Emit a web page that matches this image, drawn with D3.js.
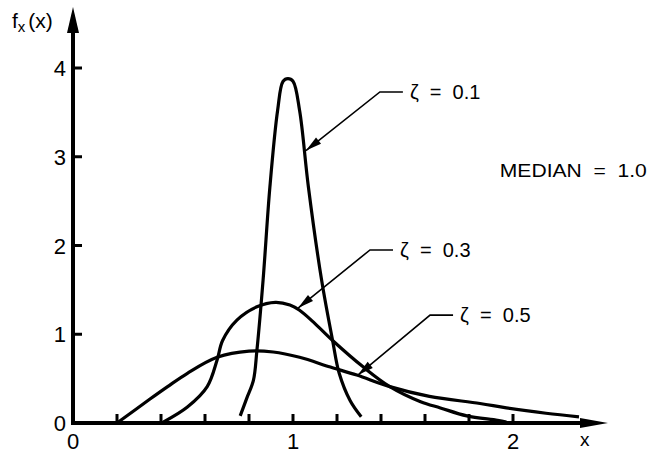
<!doctype html>
<html>
<head>
<meta charset="utf-8">
<title>Lognormal densities</title>
<script src="https://d3js.org/d3.v7.min.js"></script>
<style>
  body { margin: 0; background: #fff; }
  svg text { font-family: "Liberation Sans", Arial, sans-serif; fill: #000; }
</style>
</head>
<body>
<svg width="647" height="456"></svg>
<script>
// curve points (x, f(x))
var zeta01 = [[0.76,0.08],[0.79,0.28],[0.82,0.48],[0.836,0.82],[0.864,1.61],[0.895,2.66],[0.93,3.52],
              [0.955,3.85],[0.977,3.88],[1.0,3.85],[1.03,3.52],[1.07,2.66],[1.13,1.61],[1.18,0.93],
              [1.21,0.56],[1.26,0.25],[1.31,0.07]];
var zeta03 = [[0.41,0.01],[0.52,0.18],[0.61,0.41],[0.655,0.71],[0.68,0.93],[0.745,1.16],[0.836,1.31],
              [0.92,1.36],[0.986,1.33],[1.03,1.27],[1.1,1.12],[1.18,0.93],[1.32,0.63],[1.44,0.41],
              [1.58,0.24],[1.67,0.17],[1.79,0.08],[1.93,0.03],[1.97,0.01]];
var zeta05 = [[0.2,0.0],[0.35,0.27],[0.43,0.41],[0.52,0.56],[0.655,0.74],[0.8,0.81],[0.91,0.8],
              [1.03,0.74],[1.17,0.63],[1.29,0.54],[1.44,0.41],[1.62,0.3],[1.85,0.22],[1.97,0.17],
              [2.15,0.11],[2.3,0.07]];

var xTicks = [0.2,0.4,0.6,0.8,1.0,1.2,1.4,1.6,1.8,2.0];
var xLabels = [0,1,2];
var yTicks = [1,2,3,4];
var yLabels = [0,1,2,3,4];

// label text, arrow tip (data) and elbow (data)
var labels = ["\u03B6  =  0.1", "\u03B6  =  0.3", "\u03B6  =  0.5"];
var arrowTips = [[1.059,3.07],[1.023,1.295],[1.295,0.54]];
var elbows = [[1.395,3.73],[1.35,1.95],[1.623,1.216]];

var medianText = "MEDIAN  =  1.0";

var svg = d3.select("svg");
var x = d3.scaleLinear().domain([0,2]).range([73,513]);
var y = d3.scaleLinear().domain([0,4]).range([423,68]);

// axes
svg.append("line").attr("x1", x(0)).attr("x2", 590).attr("y1", y(0)).attr("y2", y(0))
   .attr("stroke","#000").attr("stroke-width",4);
svg.append("path").attr("d","M580,418 L608,423 L580,428 Z").attr("fill","#000");
svg.append("line").attr("x1", x(0)).attr("x2", x(0)).attr("y1", y(0)+2).attr("y2", 25)
   .attr("stroke","#000").attr("stroke-width",4);
svg.append("path").attr("d","M67,33 L73,7 L79,33 Z").attr("fill","#000");

svg.selectAll(".xt").data(xTicks).enter().append("line")
   .attr("x1", function(d){ return x(d); }).attr("x2", function(d){ return x(d); })
   .attr("y1", y(0)).attr("y2", y(0)-9)
   .attr("stroke","#000").attr("stroke-width",3);
svg.selectAll(".yt").data(yTicks).enter().append("line")
   .attr("x1", x(0)).attr("x2", x(0)+9)
   .attr("y1", function(d){ return y(d); }).attr("y2", function(d){ return y(d); })
   .attr("stroke","#000").attr("stroke-width",3);

svg.selectAll(".xl").data(xLabels).enter().append("text")
   .attr("x", function(d){ return x(d); }).attr("y", 449)
   .attr("text-anchor","middle").attr("font-size",22)
   .text(function(d){ return d; });
svg.selectAll(".yl").data(yLabels).enter().append("text")
   .attr("x", 66).attr("y", function(d){ return y(d)+8; })
   .attr("text-anchor","end").attr("font-size",22)
   .text(function(d){ return d; });

svg.append("text").attr("x",580).attr("y",446).attr("font-size",19).text("x");

var fl = svg.append("text").attr("x",12).attr("y",28).attr("font-size",21);
fl.append("tspan").text("f");
fl.append("tspan").attr("font-size",15).attr("dy",4).text("x");
fl.append("tspan").attr("dy",-4).attr("dx",3).text("(x)");

// curves
var line = d3.line()
   .x(function(d){ return x(d[0]); })
   .y(function(d){ return y(d[1]); })
   .curve(d3.curveCatmullRom.alpha(0.5));

[zeta01, zeta03, zeta05].forEach(function(s){
   svg.append("path").attr("d", line(s)).attr("fill","none")
      .attr("stroke","#000").attr("stroke-width",3.2).attr("stroke-linejoin","round");
});

// leaders
labels.forEach(function(t, i){
   var tx = x(arrowTips[i][0]), ty = y(arrowTips[i][1]);
   var ex = x(elbows[i][0]), ey = y(elbows[i][1]);
   svg.append("polyline")
      .attr("points", [[ex+23,ey],[ex,ey],[tx,ty]].map(function(p){ return p.join(","); }).join(" "))
      .attr("fill","none").attr("stroke","#000").attr("stroke-width",1.6);
   var ang = Math.atan2(ey-ty, ex-tx);
   var L = 16, W = 4;
   var bx = tx + L*Math.cos(ang), by = ty + L*Math.sin(ang);
   var px = -Math.sin(ang)*W, py = Math.cos(ang)*W;
   svg.append("path")
      .attr("d","M"+tx+","+ty+" L"+(bx+px)+","+(by+py)+" L"+(bx-px)+","+(by-py)+" Z")
      .attr("fill","#000");
   svg.append("text").attr("x", ex+30).attr("y", ey+7)
      .attr("font-size",20).style("white-space","pre")
      .text(t);
});

svg.append("text").attr("x", x(1.94)).attr("y", y(2.77))
   .attr("font-size",18).style("white-space","pre")
   .attr("textLength",147).attr("lengthAdjust","spacingAndGlyphs")
   .text(medianText);
</script>
</body>
</html>
